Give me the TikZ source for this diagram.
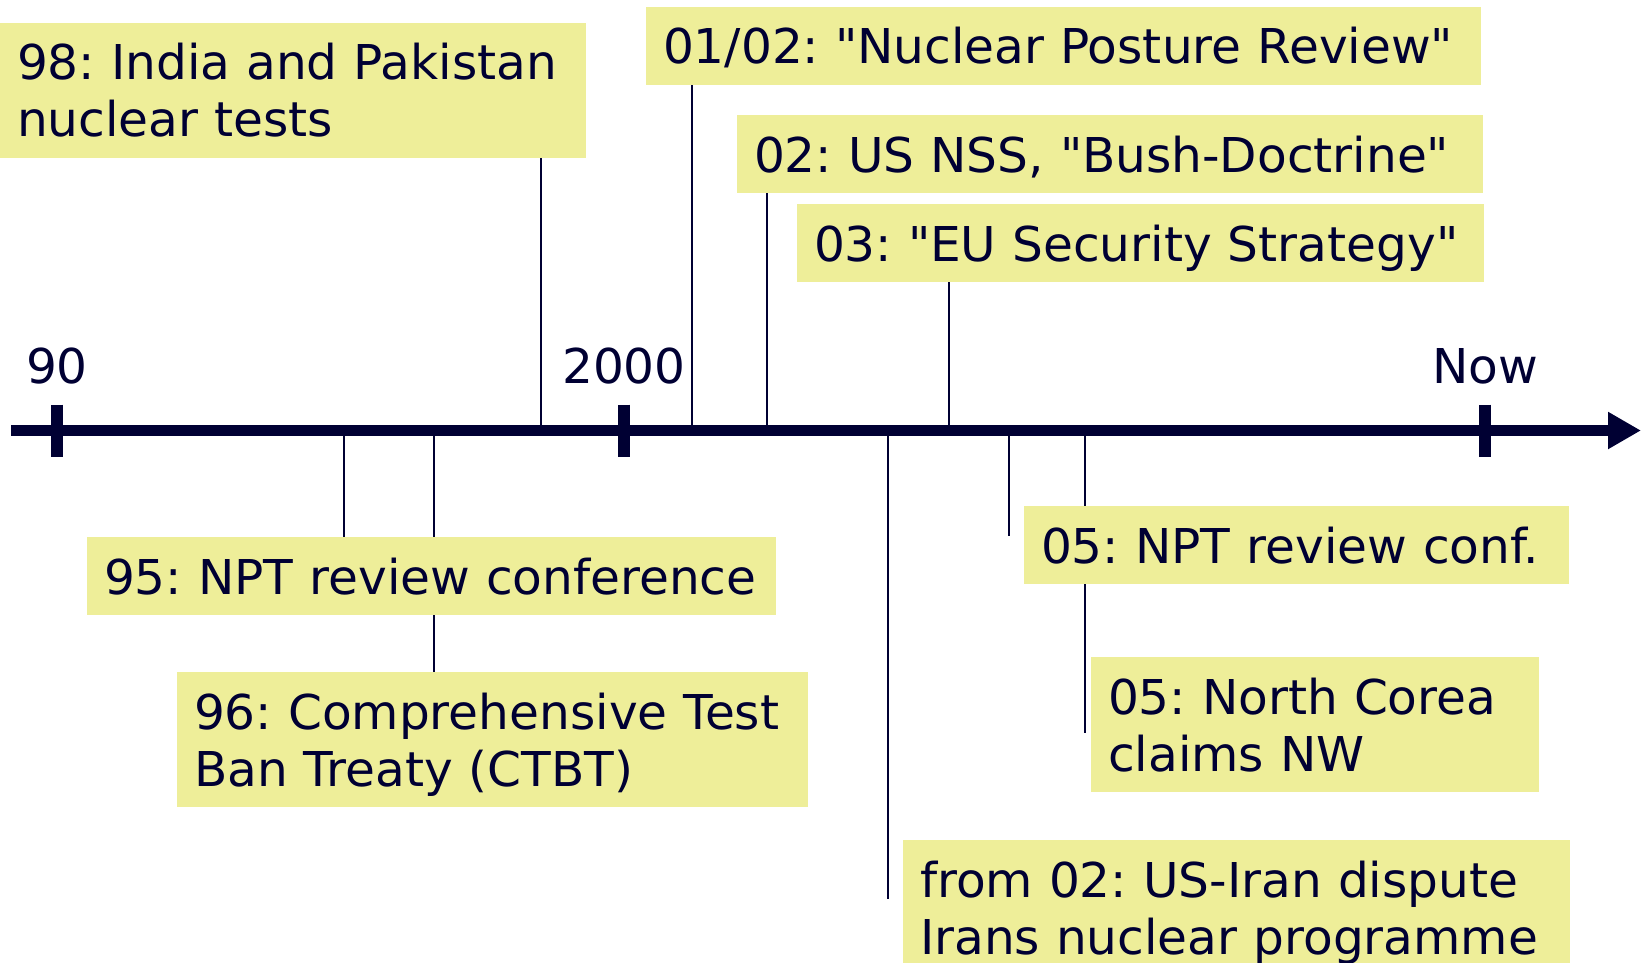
\documentclass[tikz,border=0pt]{standalone}
\usepackage{fontspec}
\setmainfont{DejaVu Sans}[FakeStretch=1.012]
\usetikzlibrary{arrows.meta, positioning, backgrounds}
\definecolor{ink}{HTML}{000033}
\definecolor{notefill}{HTML}{EEEE99}
\frenchspacing
\hyphenpenalty=10000
\tikzset{
every node/.style={font=\fontsize{48}{57}\selectfont, text=ink}, % large text everywhere
event/.style={fill=notefill, anchor=north west, align=left, inner xsep=17pt, inner ysep=0pt, outer sep=0pt, text height=57pt, text depth=21pt}, % yellow note
twoline/.style={text depth=78pt}, % note with a second line
link/.style={draw=ink, line width=1.5pt}, % thin line from the axis to a note
}
\newcommand{\qq}[1]{\textquotedbl#1\textquotedbl}

\begin{document}
\begin{tikzpicture}[x=1pt,y=-1pt,>={Triangle[length=33pt,width=35pt]}]
\useasboundingbox (0,0) rectangle (1641,963);
% time axis with its ticks
\draw[->, ink, line width=11pt] (11,430.5) -- (1641,430.5);
\foreach \x/\t in {57/90, 624/2000, 1485/Now} {
  \coordinate (t\t) at (\x,430.5);
  \draw[ink, line width=12pt] ([yshift=26pt]t\t) -- ([yshift=-26pt]t\t);
  \node[anchor=base, yshift=47.5pt] (l\t) at (t\t) {\t};
}
% points on the axis
\coordinate (a95) at (344,430.5);
\coordinate (a96) at (434,430.5);
\coordinate (a98) at (541,430.5);
\coordinate (a01) at (692,430.5);
\coordinate (a02) at (767,430.5);
\coordinate (ai) at (888,430.5);
\coordinate (a03) at (949,430.5);
\coordinate (a05) at (1009,430.5);
\coordinate (ank) at (1085,430.5);
% notes above
\node[event, twoline, text width=552pt] (e98) at (0,23) {98: India and Pakistan\\nuclear tests};
\node[event, text width=801pt] (e01) at (646,7) {01/02: \qq{Nuclear Posture Review}};
\node[event, text width=712pt] (e02) at (737,115) {02: US NSS, \qq{Bush-Doctrine}};
\node[event, text width=653pt] (e03) at (797,204) {03: \qq{EU Security Strategy}};
% notes below
\node[event, text width=655pt] (e95) at (87,537) {95: NPT review conference};
\node[event, twoline, text width=597pt] (e96) at (177,672) {96: Comprehensive Test\\Ban Treaty (CTBT)};
\node[event, text width=511pt] (e05) at (1024,506) {05: NPT review conf.};
\node[event, twoline, text width=414pt] (nk) at (1091,657) {05: North Corea\\claims NW};
\node[event, twoline, text width=633pt] (ir) at (903,840) {from 02: US-Iran dispute\\Irans nuclear programme};
% free ends
\coordinate (iend) at (888,899);
\coordinate (e05end) at (1009,536);
\coordinate (nkend) at (1085,733);
\begin{scope}[on background layer]
\draw[link] (a98) -- (a98 |- e98.south);
\draw[link] (a01) -- (a01 |- e01.south);
\draw[link] (a02) -- (a02 |- e02.south);
\draw[link] (a03) -- (a03 |- e03.south);
\draw[link] (a95) -- (a95 |- e95.north);
\draw[link] (a96) -- (a96 |- e96.north);
\draw[link] (ai) -- (iend);
\draw[link] (a05) -- (e05end);
\draw[link] (ank) -- (nkend);
\end{scope}
\end{tikzpicture}
\end{document}
